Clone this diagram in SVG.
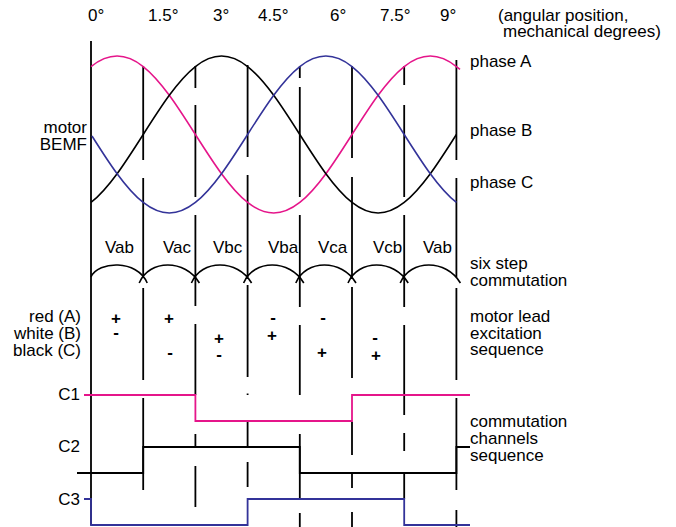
<svg xmlns="http://www.w3.org/2000/svg" width="676" height="527" viewBox="0 0 676 527">
<style>
.t{font-family:"Liberation Sans",Arial,sans-serif;font-size:17px;fill:#000}
.e{text-anchor:end}
.s{font-family:"Liberation Sans",Arial,sans-serif;font-size:17px;font-weight:bold;text-anchor:middle;fill:#000}
.v{stroke:#000;stroke-width:1.8;fill:none}
.w{stroke-width:1.6;fill:none}
.pk{stroke:#e5158a}
.bk{stroke:#000}
.bl{stroke:#333399}
.c{stroke-width:1.8;fill:none}
</style>
<rect width="676" height="527" fill="#fff"/>
<g id="axis-labels">
<text class="t" x="88" y="21">0°</text>
<text class="t" x="148" y="21">1.5°</text>
<text class="t" x="213" y="21">3°</text>
<text class="t" x="258" y="21">4.5°</text>
<text class="t" x="330" y="21">6°</text>
<text class="t" x="380" y="21">7.5°</text>
<text class="t" x="440" y="21">9°</text>
<text class="t" x="498" y="21">(angular position,</text>
<text class="t" x="503" y="37">mechanical degrees)</text>
</g>
<g id="connectors">
<path class="v" d="M91 41V525 M143.2 66V160 M143.2 178V277 M143.2 288V380 M143.2 398V490 M195.4 66V88 M195.4 105V197 M195.4 215V306 M195.4 324V395 M195.4 434V447 M195.4 466V507 M247.6 65V157 M247.6 175V277 M247.6 285V377 M247.6 393.5V395 M247.6 422V447 M247.6 462V487 M299.8 66V78 M299.8 87V197 M299.8 215V307 M299.8 325V395 M299.8 434V499 M299.8 513V527 M352 66V158 M352 177V277 M352 287V378 M352 422V455 M352 473V488 M352 512V527 M404.2 66V85 M404.2 105V197 M404.2 215V307 M404.2 325V415 M404.2 433V451 M404.2 473V499 M456.4 60V160 M456.4 178V277 M456.4 288V380 M456.4 398V490 M456.4 510V527"/>
</g>
<g id="bemf">
<path id="phaseA-curve" class="w pk" d="M91 66.52 C99.7 59.67 108.4 56 117.1 56 S134.5 59.67 143.2 66.52 S160.6 83.39 169.3 95.25 S186.7 120.8 195.4 134.5 S212.8 161.89 221.5 173.75 S238.9 195.63 247.6 202.48 S265 213 273.7 213 S291.1 209.33 299.8 202.48 S317.2 185.61 325.9 173.75 S343.3 148.2 352 134.5 S369.4 107.11 378.1 95.25 S395.5 73.37 404.2 66.52 S421.6 56 430.3 56 S447.7 59.67 456.4 66.52 L460 69.4"/>
<path id="phaseB-curve" class="w bk" d="M91 202.48 C99.7 195.63 108.4 185.61 117.1 173.75 S134.5 148.2 143.2 134.5 S160.6 107.11 169.3 95.25 S186.7 73.37 195.4 66.52 S212.8 56 221.5 56 S238.9 59.67 247.6 66.52 S265 83.39 273.7 95.25 S291.1 120.8 299.8 134.5 S317.2 161.89 325.9 173.75 S343.3 195.63 352 202.48 S369.4 213 378.1 213 S395.5 209.33 404.2 202.48 S421.6 185.61 430.3 173.75 S447.7 148.2 456.4 134.5"/>
<path id="phaseC-curve" class="w bl" d="M92 136 C99.7 148.2 108.4 161.89 117.1 173.75 S134.5 195.63 143.2 202.48 S160.6 213 169.3 213 S186.7 209.33 195.4 202.48 S212.8 185.61 221.5 173.75 S238.9 148.2 247.6 134.5 S265 107.11 273.7 95.25 S291.1 73.37 299.8 66.52 S317.2 56 325.9 56 S343.3 59.67 352 66.52 S369.4 83.39 378.1 95.25 S395.5 120.8 404.2 134.5 S421.6 161.89 430.3 173.75 S447.7 195.63 456.4 202.48"/>
<text class="t e" x="87" y="133">motor</text>
<text class="t e" x="87" y="150">BEMF</text>
<text class="t" x="470" y="67">phase A</text>
<text class="t" x="470" y="136">phase B</text>
<text class="t" x="470" y="188">phase C</text>
</g>
<g id="six-step">
<text class="t" x="105" y="253">Vab</text>
<text class="t" x="163" y="253">Vac</text>
<text class="t" x="213" y="253">Vbc</text>
<text class="t" x="268" y="253">Vba</text>
<text class="t" x="318" y="253">Vca</text>
<text class="t" x="373" y="253">Vcb</text>
<text class="t" x="423" y="253">Vab</text>
<path class="w bk" d="M91 277 C98 261 137.2 259 147.2 283 M139.2 283 C149.2 259 185.4 259 199.4 283 M191.4 283 C201.4 259 237.6 259 251.6 283 M243.6 283 C253.6 259 289.8 259 303.8 283 M295.8 283 C305.8 259 342 259 356 283 M348 283 C358 259 394.2 259 408.2 283 M400.2 283 C410.2 259 446.4 259 460.4 283"/>
<text class="t" x="470" y="269">six step</text>
<text class="t" x="470" y="286">commutation</text>
</g>
<g id="excitation">
<text class="t e" x="81" y="322">red (A)</text>
<text class="t e" x="81" y="339">white (B)</text>
<text class="t e" x="81" y="356">black (C)</text>
<text class="s" x="116" y="324">+</text>
<text class="s" x="116" y="338">-</text>
<text class="s" x="169" y="324">+</text>
<text class="s" x="170" y="358">-</text>
<text class="s" x="219" y="344">+</text>
<text class="s" x="219" y="360">-</text>
<text class="s" x="273" y="323">-</text>
<text class="s" x="272" y="341">+</text>
<text class="s" x="323" y="323">-</text>
<text class="s" x="322" y="358">+</text>
<text class="s" x="375" y="343">-</text>
<text class="s" x="376" y="361">+</text>
<text class="t" x="470" y="322">motor lead</text>
<text class="t" x="470" y="339">excitation</text>
<text class="t" x="470" y="355">sequence</text>
</g>
<g id="channels">
<text class="t e" x="80" y="400">C1</text>
<text class="t e" x="80" y="452">C2</text>
<text class="t e" x="80" y="505">C3</text>
<path id="C1" class="c pk" d="M84 395H195.4V421H352V395H470"/>
<path id="C2" class="c bk" d="M77 473H143.2V447H299.8V473H456.4V447H470"/>
<path id="C3" class="c bl" d="M84 499H91V525H247.6V499H404.2V525H470"/>
<text class="t" x="470" y="427">commutation</text>
<text class="t" x="470" y="444">channels</text>
<text class="t" x="470" y="461">sequence</text>
</g>
</svg>
